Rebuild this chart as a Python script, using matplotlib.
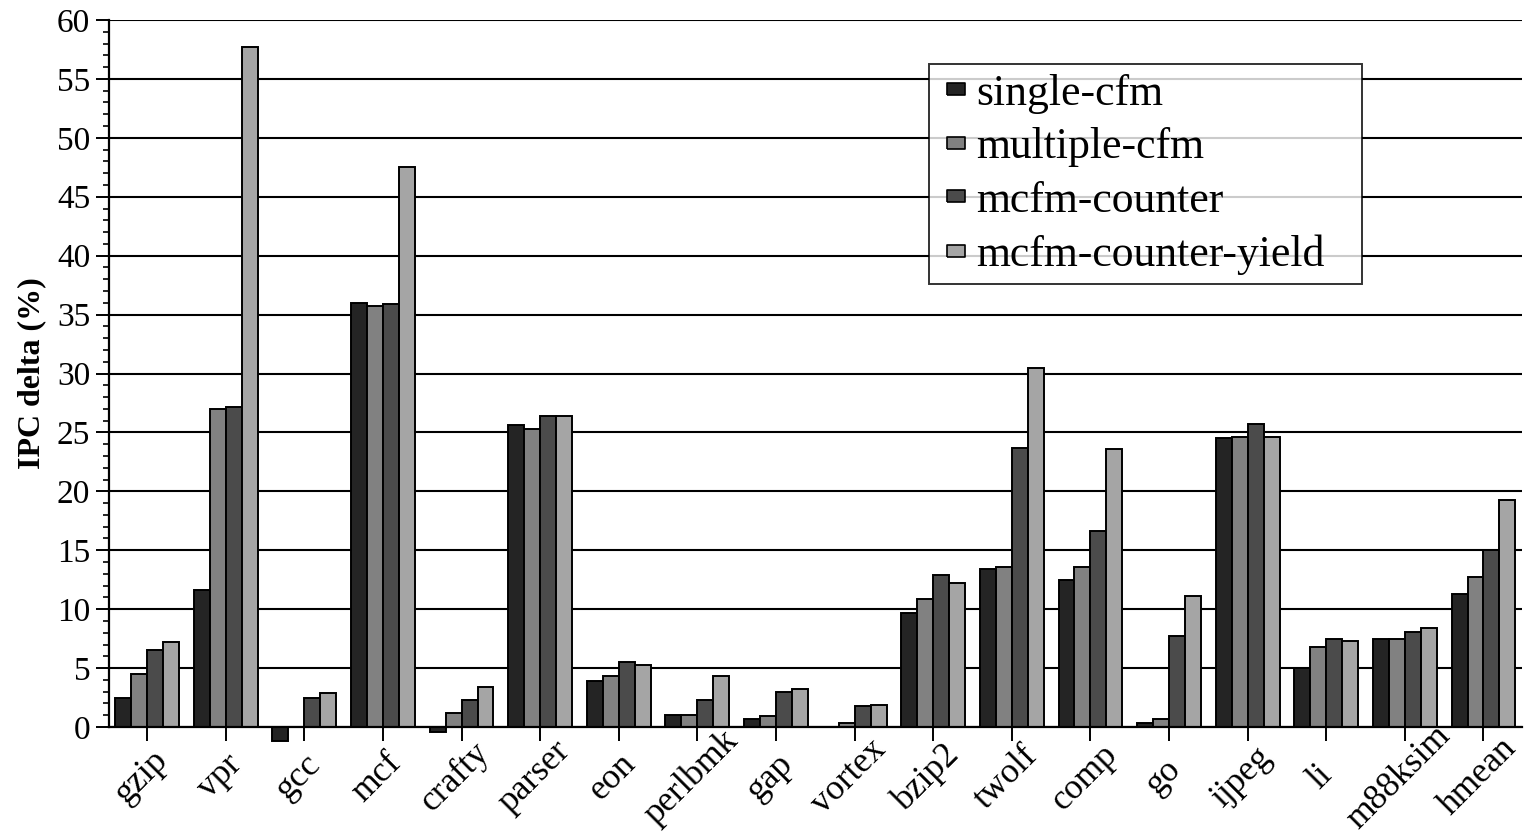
import matplotlib
matplotlib.use("Agg")
import matplotlib.pyplot as plt
import matplotlib.transforms as mtransforms
from matplotlib.lines import Line2D
import numpy as np
from matplotlib.ticker import MultipleLocator

plt.rcParams['font.family'] = ['Liberation Serif', 'DejaVu Serif']

categories = ["gzip", "vpr", "gcc", "mcf", "crafty", "parser", "eon", "perlbmk", "gap",
              "vortex", "bzip2", "twolf", "comp", "go", "ijpeg", "li", "m88ksim", "hmean"]
series_names = ["single-cfm", "multiple-cfm", "mcfm-counter", "mcfm-counter-yield"]
single_cfm = [2.5, 11.6, -1.2, 36.0, -0.4, 25.6, 3.9, 1.0, 0.7, 0.0, 9.7, 13.4, 12.5, 0.3, 24.5, 5.0, 7.5, 11.3]
multiple_cfm = [4.5, 27.0, 0.0, 35.7, 1.2, 25.3, 4.3, 1.0, 0.9, 0.3, 10.9, 13.6, 13.6, 0.65, 24.6, 6.8, 7.5, 12.7]
mcfm_counter = [6.5, 27.15, 2.5, 35.9, 2.3, 26.4, 5.5, 2.3, 3.0, 1.8, 12.9, 23.7, 16.6, 7.7, 25.7, 7.5, 8.1, 15.0]
mcfm_counter_yield = [7.2, 57.7, 2.85, 47.5, 3.4, 26.4, 5.3, 4.3, 3.2, 1.9, 12.2, 30.5, 23.6, 11.1, 24.6, 7.3, 8.4, 19.3]
yticks = list(range(0, 61, 5))

series = [single_cfm, multiple_cfm, mcfm_counter, mcfm_counter_yield]
colors = ["#242424", "#818181", "#4b4b4b", "#a5a5a5"]

fig = plt.figure(figsize=(15.24, 8.33), dpi=100)
ax = fig.add_axes([109/1524, 1 - 727/833, (1522-109)/1524, (727-20)/833])

x = np.arange(len(categories))
w = 0.203
for i, (vals, c, name) in enumerate(zip(series, colors, series_names)):
    ax.bar(x + (i - 1.5) * w, vals, width=w, color=c, edgecolor="black",
           linewidth=1.4, label=name, zorder=3, clip_on=False)

ax.set_xlim(-0.485, 17.49)
ax.set_ylim(0, 60)
ax.set_yticks(yticks)
ax.yaxis.set_minor_locator(MultipleLocator(1))
ax.grid(axis='y', color='black', linewidth=1.5, zorder=0)
ax.set_axisbelow(True)

for s in ['top', 'right']:
    ax.spines[s].set_visible(False)
ax.spines['left'].set_linewidth(1.6)
ax.spines['bottom'].set_linewidth(1.6)
ax.spines['bottom'].set_zorder(4)

ax.tick_params(axis='y', which='major', length=9.5, width=1.4, labelsize=24, pad=4)
ax.tick_params(axis='y', which='minor', length=4.5, width=1.2)
ax.set_xticks(x)
ax.set_xticklabels(categories, rotation=45, ha='center', va='center',
                   rotation_mode='anchor', fontsize=25.5)
ax.tick_params(axis='x', length=10, width=1.4, pad=26)
offset = mtransforms.ScaledTranslation(-6/100, 0, fig.dpi_scale_trans)
for lbl in ax.get_xticklabels():
    lbl.set_transform(lbl.get_transform() + offset)

ax.set_ylabel("IPC delta (%)", fontsize=23, fontweight='bold', labelpad=8)

rect = [(-1, -0.7), (1, -0.7), (1, 0.7), (-1, 0.7), (-1, -0.7)]
handles = [Line2D([0], [0], marker=rect, markersize=12.5, markerfacecolor=c,
                  markeredgecolor='black', markeredgewidth=1.2, linestyle='none')
           for c in colors]
leg = ax.legend(handles, series_names, loc='upper left', mode='expand',
                bbox_to_anchor=(929/1524, 1 - 279/833, (1362-929)/1524, (279-64)/833),
                bbox_transform=fig.transFigure, fontsize=31.5, frameon=True,
                fancybox=False, edgecolor='black', borderaxespad=0,
                handlelength=0.78, handletextpad=0.07,
                labelspacing=0.31, borderpad=0.22)
leg.get_frame().set_linewidth(1.4)
leg.set_zorder(10)

fig.savefig("out.png", dpi=100)
